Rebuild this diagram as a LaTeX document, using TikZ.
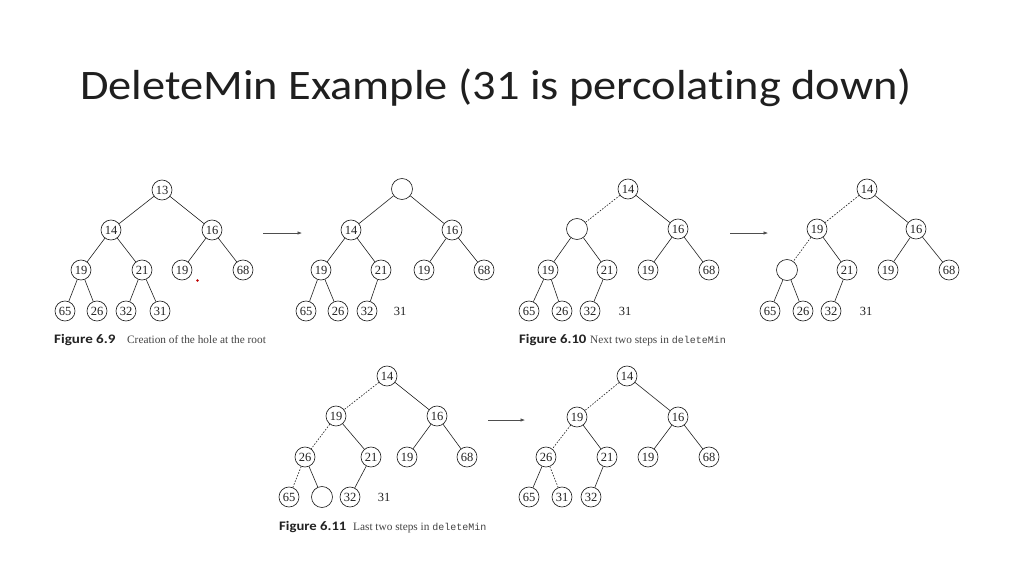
\documentclass[tikz,border=0pt]{standalone}
\usepackage{fontspec}
\setmainfont{Liberation Serif}
\newfontfamily\titlefont[Ligatures=NoCommon]{Carlito}
\newfontfamily\capfont{Carlito}
\newfontfamily\codefont{Liberation Mono}
\usetikzlibrary{arrows.meta}
\definecolor{ink}{HTML}{222222}
\begin{document}
\begin{tikzpicture}[x=1pt,y=-1pt,
  hn/.style={circle,draw=ink,line width=0.65pt,minimum size=20pt,inner sep=0pt,font=\fontsize{12.5}{12.5}\selectfont,text=ink},
  hole/.style={circle,draw=ink,line width=0.65pt,minimum size=21pt,inner sep=0pt},
  free/.style={inner sep=0pt,font=\fontsize{12.5}{12.5}\selectfont,text=ink},
  edge/.style={draw=ink,line width=0.6pt},
  dedge/.style={draw=ink,line width=0.6pt,dash pattern=on 1.6pt off 1.4pt},
  arr/.style={draw=ink!80,line width=0.6pt,-{Latex[length=4.5pt,width=3.5pt]}},
  figlab/.style={anchor=base west,inner sep=0pt,font=\capfont\bfseries\fontsize{13}{13}\selectfont,text=ink},
  figtxt/.style={anchor=base west,inner sep=0pt,font=\fontsize{11.3}{11.3}\selectfont,text=ink!85}
]
\useasboundingbox (0,0) rectangle (1024,576);
\fill[white] (0,0) rectangle (1024,576);

% title
\node[anchor=base west,inner sep=0pt,font=\titlefont\fontsize{42}{42}\selectfont,text=black!88] (title) at (80,99) {\scalebox{1.105}[1]{DeleteMin Example (31 is percolating down)}};

% ---------- Tree A (Fig 6.9) ----------
\node[hn] (A1) at (162,190) {13};
\node[hn] (A2) at (111,230) {14};
\node[hn] (A3) at (212,230) {16};
\node[hn] (A4) at (81,270) {19};
\node[hn] (A5) at (142,270) {21};
\node[hn] (A6) at (182,270) {19};
\node[hn] (A7) at (243,270) {68};
\node[hn] (A8) at (65,311) {65};
\node[hn] (A9) at (97,311) {26};
\node[hn] (A10) at (126,311) {32};
\node[hn] (A11) at (160,311) {31};
\draw[edge] (A1)--(A2) (A1)--(A3) (A2)--(A4) (A2)--(A5) (A3)--(A6) (A3)--(A7)
  (A4)--(A8) (A4)--(A9) (A5)--(A10) (A5)--(A11);
\fill[red!75!black] (197.5,280.5) circle (1.3pt);

% ---------- Tree B ----------
\node[hole] (B1) at (402,189) {};
\node[hn] (B2) at (351,230) {14};
\node[hn] (B3) at (452,230) {16};
\node[hn] (B4) at (321,270) {19};
\node[hn] (B5) at (381,270) {21};
\node[hn] (B6) at (424,270) {19};
\node[hn] (B7) at (484,270) {68};
\node[hn] (B8) at (306,311) {65};
\node[hn] (B9) at (338,311) {26};
\node[hn] (B10) at (367,311) {32};
\node[free] (B11) at (400,311) {31};
\draw[edge] (B1)--(B2) (B1)--(B3) (B2)--(B4) (B2)--(B5) (B3)--(B6) (B3)--(B7)
  (B4)--(B8) (B4)--(B9) (B5)--(B10);

% ---------- Tree C (Fig 6.10) ----------
\node[hn] (C1) at (628,189) {14};
\node[hole] (C2) at (577,229) {};
\node[hn] (C3) at (678,229) {16};
\node[hn] (C4) at (548,270) {19};
\node[hn] (C5) at (607,270) {21};
\node[hn] (C6) at (648,270) {19};
\node[hn] (C7) at (709,270) {68};
\node[hn] (C8) at (529,311) {65};
\node[hn] (C9) at (562,311) {26};
\node[hn] (C10) at (590,311) {32};
\node[free] (C11) at (625,311) {31};
\draw[dedge] (C1)--(C2);
\draw[edge] (C1)--(C3) (C2)--(C4) (C2)--(C5) (C3)--(C6) (C3)--(C7)
  (C4)--(C8) (C4)--(C9) (C5)--(C10);

% ---------- Tree D ----------
\node[hn] (D1) at (867,189) {14};
\node[hn] (D2) at (817,229) {19};
\node[hn] (D3) at (916,229) {16};
\node[hole] (D4) at (787,270) {};
\node[hn] (D5) at (847,270) {21};
\node[hn] (D6) at (888,270) {19};
\node[hn] (D7) at (949,270) {68};
\node[hn] (D8) at (770,311) {65};
\node[hn] (D9) at (803,311) {26};
\node[hn] (D10) at (831,311) {32};
\node[free] (D11) at (866,311) {31};
\draw[dedge] (D1)--(D2) (D2)--(D4);
\draw[edge] (D1)--(D3) (D2)--(D5) (D3)--(D6) (D3)--(D7)
  (D4)--(D8) (D4)--(D9) (D5)--(D10);

% ---------- Tree E (Fig 6.11) ----------
\node[hn] (E1) at (387,376) {14};
\node[hn] (E2) at (336,416) {19};
\node[hn] (E3) at (437,416) {16};
\node[hn] (E4) at (305,457) {26};
\node[hn] (E5) at (371,457) {21};
\node[hn] (E6) at (407,457) {19};
\node[hn] (E7) at (467,457) {68};
\node[hn] (E8) at (289,497) {65};
\node[hole] (E9) at (322,497) {};
\node[hn] (E10) at (350,497) {32};
\node[free] (E11) at (384,497) {31};
\draw[dedge] (E1)--(E2) (E2)--(E4) (E4)--(E8);
\draw[edge] (E1)--(E3) (E2)--(E5) (E3)--(E6) (E3)--(E7)
  (E4)--(E9) (E5)--(E10);

% ---------- Tree F ----------
\node[hn] (F1) at (627,376) {14};
\node[hn] (F2) at (577,417) {19};
\node[hn] (F3) at (678,417) {16};
\node[hn] (F4) at (546,457) {26};
\node[hn] (F5) at (607,457) {21};
\node[hn] (F6) at (648,457) {19};
\node[hn] (F7) at (709,457) {68};
\node[hn] (F8) at (529,497) {65};
\node[hn] (F9) at (562,497) {31};
\node[hn] (F10) at (591,497) {32};
\draw[dedge] (F1)--(F2) (F2)--(F4) (F4)--(F9);
\draw[edge] (F1)--(F3) (F2)--(F5) (F3)--(F6) (F3)--(F7)
  (F4)--(F8) (F5)--(F10);

% ---------- arrows ----------
\coordinate (r1a) at (263,233); \coordinate (r1b) at (302,233);
\coordinate (r2a) at (730,233); \coordinate (r2b) at (768,233);
\coordinate (r3a) at (488,420); \coordinate (r3b) at (525,420);
\draw[arr] (r1a)--(r1b);
\draw[arr] (r2a)--(r2b);
\draw[arr] (r3a)--(r3b);

% ---------- captions ----------
\node[figlab] (L1) at (54,343) {\scalebox{1.16}[1]{Figure 6.9}};
\node[figtxt] (T1) at (127,343) {Creation of the hole at the root};
\node[figlab] (L2) at (519,343) {\scalebox{1.13}[1]{Figure 6.10}};
\node[figtxt] (T2) at (590,343) {Next two steps in {\codefont\fontsize{10}{10}\selectfont deleteMin}};
\node[figlab] (L3) at (279,530) {\scalebox{1.13}[1]{Figure 6.11}};
\node[figtxt] (T3) at (353,530) {Last two steps in {\codefont\fontsize{10}{10}\selectfont deleteMin}};
\end{tikzpicture}
\end{document}
